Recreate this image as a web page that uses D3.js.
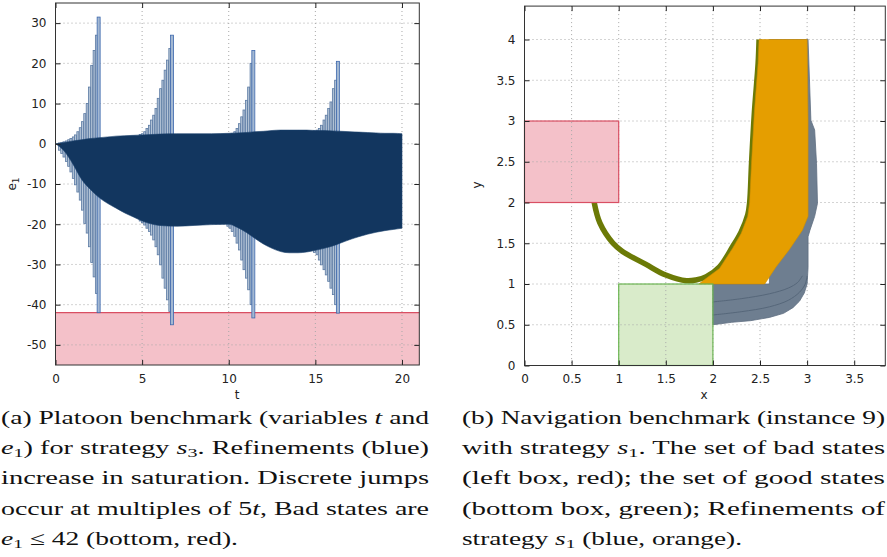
<!DOCTYPE html>
<html><head><meta charset="utf-8">
<script src="https://cdn.jsdelivr.net/npm/d3@7"></script>
<style>body{margin:0;background:#fff}svg{display:block}</style>
</head><body>
<svg id="c" width="887" height="557"></svg>
<script>
// ---------- Platoon benchmark data (panel a) ----------
const platoonXTicks = [0, 5, 10, 15, 20];
const platoonYTicks = [-50, -40, -30, -20, -10, 0, 10, 20, 30];
const badLevel = -42;
const bandT     = [0,0.5,1,1.5,2,2.5,3,3.5,4,4.5,5,5.5,6,7,8,9,10,10.5,11,11.5,12,12.5,13,13.5,14,14.5,15,15.5,16,16.5,17,17.5,18,18.5,19,19.5,20];
const bandUpper = [0,0.3,0.7,1.0,1.3,1.5,1.7,1.9,2.0,2.1,2.2,2.3,2.4,2.5,2.5,2.5,2.6,2.7,2.8,3.0,3.1,3.3,3.4,3.4,3.4,3.4,3.3,3.3,3.2,3.1,3.0,2.9,2.8,2.7,2.6,2.6,2.5];
const bandLower = [0,-1.8,-5.0,-8.8,-11.3,-13.3,-14.8,-16.0,-17.2,-18.2,-19.2,-19.9,-20.3,-20.5,-20.3,-20.1,-20.0,-20.8,-22.0,-23.5,-24.9,-26.0,-26.8,-27.1,-27.1,-26.9,-26.5,-26.0,-25.4,-24.6,-23.8,-23.1,-22.5,-22.0,-21.6,-21.3,-21.0];
// refinement spikes before each discrete jump
const spike1T   = [0.23,0.36,0.49,0.63,0.76,0.89,1.03,1.16,1.29,1.43,1.56,1.69,1.83,1.96,2.09,2.23,2.36,2.49];
const spike1Top = [0.2,0.3,0.5,0.7,1.0,1.3,1.7,2.2,3.0,4.0,5.5,7.5,10.0,14.1,19.5,23.2,27.0,31.5];
const spike1Bot = [-1.6,-2.4,-3.3,-4.4,-5.6,-7.0,-8.6,-10.2,-12.0,-14.0,-16.5,-19.8,-22.2,-25.6,-29.5,-33.1,-37.2,-42.0];
const spike2T   = [4.89,5.02,5.15,5.28,5.42,5.54,5.67,5.80,5.93,6.07,6.20,6.33,6.46,6.60,6.73];
const spike2Top = [2.3,2.5,3.0,3.8,4.6,5.9,7.1,8.8,11.3,13.7,15.8,18.3,20.8,23.7,27.0];
const spike2Bot = [-19.2,-19.6,-20.2,-21.0,-21.8,-22.7,-23.9,-25.6,-27.6,-30.1,-33.4,-35.9,-38.8,-41.7,-45.0];
const spike3T   = [9.95,10.08,10.20,10.35,10.48,10.62,10.75,10.88,11.02,11.15,11.29,11.42];
const spike3Top = [2.3,2.4,2.6,3.0,3.8,5.0,6.7,8.4,10.8,14.1,20.0,23.2];
const spike3Bot = [-20.5,-21.0,-21.8,-23.0,-24.7,-26.4,-28.9,-31.3,-33.4,-36.3,-40.0,-43.3];
const spike4T   = [14.95,15.10,15.23,15.36,15.50,15.63,15.77,15.90,16.04,16.17,16.30];
const spike4Top = [3.2,3.4,3.8,4.6,5.9,7.1,8.8,10.4,13.7,15.8,20.5];
const spike4Bot = [-27.0,-27.6,-28.9,-30.1,-31.3,-32.6,-34.2,-35.9,-37.5,-40.0,-42.1];

// ---------- Navigation benchmark data (panel b) ----------
const navXTicks = [0, 0.5, 1, 1.5, 2, 2.5, 3, 3.5];
const navYTicks = [0, 0.5, 1, 1.5, 2, 2.5, 3, 3.5, 4];
const badBox  = {x: [0, 1], y: [2, 3]};
const goodBox = {x: [1, 2], y: [0, 1]};
const trajX = [0.74,0.80,0.94,1.04,1.29,1.50,1.72,1.82,1.93,2.07,2.21,2.30,2.37,2.39,2.41,2.44,2.48,2.49];
const trajY = [2.00,1.75,1.50,1.40,1.24,1.11,1.04,1.05,1.09,1.21,1.46,1.64,1.85,2.00,2.48,3.10,3.71,4.00];
const orangeX = [1.85,1.93,2.07,2.21,2.30,2.37,2.39,2.41,2.44,2.48,2.49,3.00,3.01,3.01,2.95,2.81,2.67,2.55];
const orangeY = [1.00,1.07,1.19,1.44,1.62,1.83,2.00,2.48,3.10,3.71,4.00,4.00,3.00,1.83,1.66,1.42,1.21,1.00];
const grayX = [2.00,2.20,2.40,2.60,2.75,2.85,2.92,2.97,3.00,3.01,3.01,3.03,3.08,3.11,3.10,3.08,3.04,3.01,2.60,2.60,2.00];
const grayY = [0.50,0.53,0.55,0.59,0.64,0.71,0.79,0.89,1.00,1.20,1.58,1.66,1.83,1.99,2.48,2.89,3.01,4.00,4.00,1.00,1.00];
// inner refinement contours of the blue (gray) set
const layer1X = [2.00,2.30,2.60,2.80,2.92,2.98,3.00];
const layer1Y = [0.62,0.66,0.72,0.80,0.90,1.00,1.10];
const layer2X = [2.00,2.30,2.60,2.80,2.90,2.95];
const layer2Y = [0.78,0.82,0.88,0.95,1.02,1.10];

// ---------- captions ----------
const captionA = [
  [["(a) Platoon benchmark (variables ",0],["t",1],[" and",0]],
  [["e",1],["1",2],[") for strategy ",0],["s",1],["3",2],[". Refinements (blue)",0]],
  [["increase in saturation. Discrete jumps",0]],
  [["occur at multiples of 5",0],["t",1],[", Bad states are",0]],
  [["e",1],["1",2],[" ≤ 42 (bottom, red).",0]]
];
const captionB = [
  [["(b) Navigation benchmark (instance 9)",0]],
  [["with strategy ",0],["s",1],["1",2],[". The set of bad states",0]],
  [["(left box, red); the set of good states",0]],
  [["(bottom box, green); Refinements of",0]],
  [["strategy ",0],["s",1],["1",2],[" (blue, orange).",0]]
];

const svg = d3.select("#c");
const tickFont = "'DejaVu Sans', sans-serif";
const plain = d => String(d);

function panel(g, xs, ys, xt, yt) {
  const [x0, x1] = xs.range(), [y0, y1] = ys.range();
  const grid = g.append("g").attr("stroke", "#a8a8a8").attr("stroke-dasharray", "1,3").attr("stroke-width", 1);
  xt.forEach(v => { const x = xs(v); if (x > x0 + 1 && x < x1 - 1)
    grid.append("line").attr("x1", x).attr("x2", x).attr("y1", y1).attr("y2", y0); });
  yt.forEach(v => { const y = ys(v); if (y < y0 - 1 && y > y1 + 1)
    grid.append("line").attr("x1", x0).attr("x2", x1).attr("y1", y).attr("y2", y); });
}
function axes(g, xs, ys, xt, yt) {
  const [x0, x1] = xs.range(), [y0, y1] = ys.range();
  const style = a => { a.select(".domain").remove();
    a.selectAll("line").attr("stroke", "#222");
    a.selectAll("text").attr("font-family", tickFont).attr("font-size", 12).attr("fill", "#222"); };
  g.append("g").attr("transform", `translate(0,${y0})`)
    .call(d3.axisBottom(xs).tickValues(xt).tickSize(-5).tickPadding(9).tickFormat(plain)).call(style);
  g.append("g").attr("transform", `translate(0,${y1})`)
    .call(d3.axisTop(xs).tickValues(xt).tickSize(-5).tickFormat("")).call(style);
  g.append("g").attr("transform", `translate(${x0},0)`)
    .call(d3.axisLeft(ys).tickValues(yt).tickSize(-5).tickPadding(9).tickFormat(plain)).call(style);
  g.append("g").attr("transform", `translate(${x1},0)`)
    .call(d3.axisRight(ys).tickValues(yt).tickSize(-5).tickFormat("")).call(style);
  g.append("rect").attr("x", x0).attr("y", y1).attr("width", x1 - x0).attr("height", y0 - y1)
    .attr("fill", "none").attr("stroke", "#333").attr("stroke-width", 1);
}

// ================= Panel (a) =================
const xa = d3.scaleLinear().domain([0, 21]).range([55.5, 419.3]);
const ya = d3.scaleLinear().domain([-55, 35]).range([365, 3]);
const ga = svg.append("g");
ga.append("rect").attr("x", xa(0)).attr("width", xa(21) - xa(0))
  .attr("y", ya(badLevel)).attr("height", ya(-55) - ya(badLevel)).attr("fill", "#f4c1c9");
ga.append("line").attr("x1", xa(0)).attr("x2", xa(21)).attr("y1", ya(badLevel)).attr("y2", ya(badLevel))
  .attr("stroke", "#d94f63").attr("stroke-width", 1.2);
panel(ga, xa, ya, platoonXTicks, platoonYTicks);
const spikes = [[spike1T, spike1Top, spike1Bot],[spike2T, spike2Top, spike2Bot],[spike3T, spike3Top, spike3Bot],[spike4T, spike4Top, spike4Bot]];
spikes.forEach(([T, Top, Bot]) => {
  const n = T.length;
  const rows = T.map((t, i) => ({t, top: Top[i], bot: Bot[i], last: i === n - 1}));
  ga.append("g").selectAll("rect").data(rows).join("rect")
    .attr("x", d => xa(d.t) - (d.last ? 1.5 : 1))
    .attr("width", d => d.last ? 3 : 2)
    .attr("y", d => ya(d.top)).attr("height", d => ya(d.bot) - ya(d.top))
    .attr("fill", d => d.last ? "#a3b8d2" : "#b3c3d6")
    .attr("stroke", d => d.last ? "#3d68ad" : "#5b7aa3").attr("stroke-width", 0.8);
});
const bandRows = bandT.map((t, i) => ({t, u: bandUpper[i], l: bandLower[i]}));
ga.append("path").datum(bandRows)
  .attr("d", d3.area().x(d => xa(d.t)).y0(d => ya(d.l)).y1(d => ya(d.u)).curve(d3.curveMonotoneX))
  .attr("fill", "#12365f").attr("stroke", "#1a3f6c").attr("stroke-width", 0.6);
axes(ga, xa, ya, platoonXTicks, platoonYTicks);
ga.append("text").attr("x", 237).attr("y", 399).attr("text-anchor", "middle")
  .attr("font-family", tickFont).attr("font-size", 12).attr("fill", "#222").text("t");
ga.append("text").attr("transform", "translate(16,184) rotate(-90)").attr("text-anchor", "middle")
  .attr("font-family", tickFont).attr("font-size", 12).attr("fill", "#222")
  .call(t => { t.append("tspan").text("e"); t.append("tspan").attr("font-size", 9).attr("dy", 3).text("1"); });

// ================= Panel (b) =================
const xb = d3.scaleLinear().domain([0, 3.83]).range([524.5, 885.3]);
const yb = d3.scaleLinear().domain([0, 4.41]).range([365.5, 6.1]);
const gb = svg.append("g");
const boxRect = (b) => gb.append("rect").attr("x", xb(b.x[0])).attr("width", xb(b.x[1]) - xb(b.x[0]))
  .attr("y", yb(b.y[1])).attr("height", yb(b.y[0]) - yb(b.y[1]));
boxRect(badBox).attr("fill", "#f4c1c9");
boxRect(goodBox).attr("fill", "#d9ebca");
panel(gb, xb, yb, navXTicks, navYTicks);
const pts = (X, Y) => X.map((x, i) => [xb(x), yb(Y[i])]);
gb.append("path").attr("d", d3.line().curve(d3.curveLinearClosed)(pts(grayX, grayY)))
  .attr("fill", "#6e7e90").attr("stroke", "#5f6f82").attr("stroke-width", 0.8);
[[layer1X, layer1Y], [layer2X, layer2Y]].forEach(([X, Y]) =>
  gb.append("path").attr("d", d3.line().curve(d3.curveCatmullRom)(pts(X, Y)))
    .attr("fill", "none").attr("stroke", "#56677a").attr("stroke-width", 1));
gb.append("path").attr("d", d3.line().curve(d3.curveCatmullRom)(pts(trajX, trajY)))
  .attr("fill", "none").attr("stroke", "#6b7a06").attr("stroke-width", 5.5).attr("stroke-linecap", "butt");
gb.append("path").attr("d", d3.line().curve(d3.curveLinearClosed)(pts(orangeX, orangeY)))
  .attr("fill", "#e59e00").attr("stroke", "#d08f00").attr("stroke-width", 0.6);
boxRect(badBox).attr("fill", "none").attr("stroke", "#d94f63").attr("stroke-width", 1.2);
boxRect(goodBox).attr("fill", "none").attr("stroke", "#6cb553").attr("stroke-width", 1.2);
axes(gb, xb, yb, navXTicks, navYTicks);
gb.append("text").attr("x", 704).attr("y", 399).attr("text-anchor", "middle")
  .attr("font-family", tickFont).attr("font-size", 12).attr("fill", "#222").text("x");
gb.append("text").attr("transform", "translate(481,185) rotate(-90)").attr("text-anchor", "middle")
  .attr("font-family", tickFont).attr("font-size", 12).attr("fill", "#222").text("y");

// ================= Captions =================
function caption(lines, x0, width, lastWidth) {
  lines.forEach((segs, li) => {
    const t = svg.append("text").attr("x", x0).attr("y", 424 + li * 30.2)
      .attr("font-family", "'Liberation Serif', 'Times New Roman', serif").attr("font-size", 19).attr("fill", "#111");
    t.attr("textLength", li < lines.length - 1 ? width : lastWidth).attr("lengthAdjust", "spacingAndGlyphs");
    let shifted = false;
    segs.forEach(([s, f]) => {
      const sp = t.append("tspan").text(s);
      if (f === 1) sp.attr("font-style", "italic");
      if (f === 2) { sp.attr("font-size", 13.5).attr("dy", 3); shifted = true; }
      else if (shifted) { sp.attr("dy", -3); shifted = false; }
    });
  });
}
caption(captionA, 1, 428, 237);
caption(captionB, 462, 423, 280);
</script>
</body></html>
